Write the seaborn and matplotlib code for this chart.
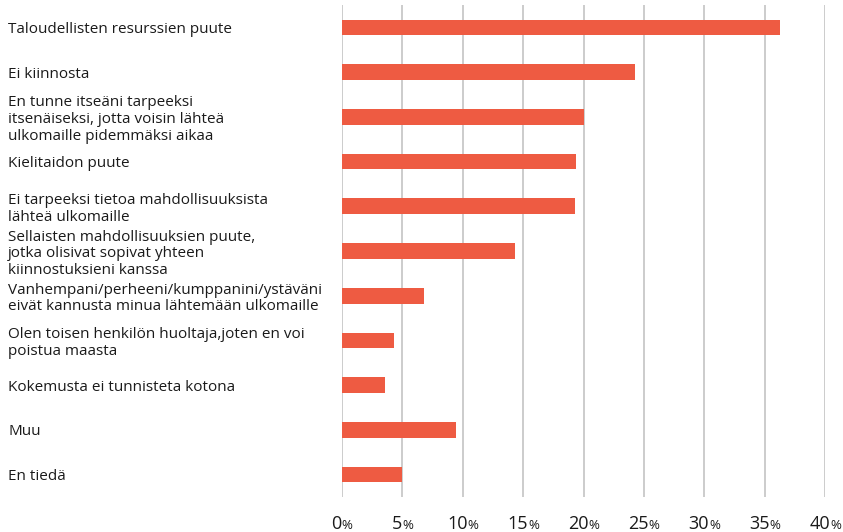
import pandas as pd
import seaborn as sns
from matplotlib import pyplot as plt
from matplotlib.offsetbox import TextArea, HPacker, AnnotationBbox

# survey answers (share of respondents, %)
reasons = [
    "Taloudellisten resurssien puute",
    "Ei kiinnosta",
    "En tunne itseäni tarpeeksi\nitsenäiseksi, jotta voisin lähteä\nulkomaille pidemmäksi aikaa",
    "Kielitaidon puute",
    "Ei tarpeeksi tietoa mahdollisuuksista\nlähteä ulkomaille",
    "Sellaisten mahdollisuuksien puute,\njotka olisivat sopivat yhteen\nkiinnostuksieni kanssa",
    "Vanhempani/perheeni/kumppanini/ystäväni\neivät kannusta minua lähtemään ulkomaille",
    "Olen toisen henkilön huoltaja,joten en voi\npoistua maasta",
    "Kokemusta ei tunnisteta kotona",
    "Muu",
    "En tiedä",
]
shares = [36.3, 24.3, 20.0, 19.4, 19.3, 14.3, 6.8, 4.3, 3.6, 9.4, 5.0]
x_ticks = [0, 5, 10, 15, 20, 25, 30, 35, 40]

df = pd.DataFrame({"reason": reasons, "share": shares})

sns.set_style("white")
plt.rcParams["font.family"] = ["Open Sans", "DejaVu Sans"]

fig = plt.figure(figsize=(8.43, 5.32), dpi=100)
ax = fig.add_axes([342 / 843, 1 - 497 / 532, (825 - 342) / 843, (497 - 5) / 532])

sns.barplot(data=df, x="share", y="reason", orient="h", color="#ee5b42",
            width=0.35, saturation=1, linewidth=0, ax=ax)

ax.set_xlim(0, 40)
ax.set_xticks(x_ticks)
ax.set_xticklabels([])
ax.grid(axis="x", color="#c8c8c8", lw=1.3)
ax.set_axisbelow(True)
for s in ax.spines.values():
    s.set_visible(False)
ax.tick_params(axis="both", length=0)
ax.set_xlabel("")
ax.set_ylabel("")

# left-aligned category labels at the figure edge
ax.tick_params(axis="y", pad=(342 - 8) * 72 / 100)
for lab in ax.get_yticklabels():
    lab.set_horizontalalignment("left")
    lab.set_fontsize(11)
    lab.set_color("#1a1a1a")
    lab.set_linespacing(1.15)

# percent tick labels with a smaller % sign
trans = ax.get_xaxis_transform()
for t in x_ticks:
    box = HPacker(children=[TextArea(str(t), textprops=dict(fontsize=13, color="#1a1a1a")),
                            TextArea("%", textprops=dict(fontsize=9.5, color="#1a1a1a"))],
                  align="baseline", pad=0, sep=0)
    ab = AnnotationBbox(box, (t, 0), xycoords=trans, xybox=(0, -13),
                        boxcoords="offset points", box_alignment=(0.5, 1),
                        frameon=False, pad=0)
    ax.add_artist(ab)

plt.savefig("out.png", dpi=100)
